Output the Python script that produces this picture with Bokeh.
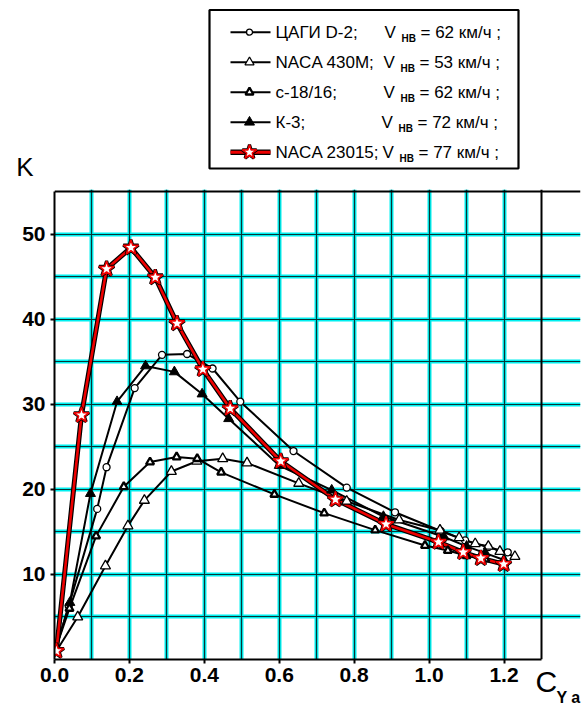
from bokeh.plotting import figure
from bokeh.layouts import column
from bokeh.models import Range1d, FixedTicker, NumeralTickFormatter, Grid, LinearAxis
from bokeh.core.properties import value
from bokeh.embed import file_html
from bokeh.resources import INLINE

# ---------------- data ----------------
d2_cy = [0.005, 0.038, 0.114, 0.139, 0.214, 0.287, 0.354, 0.422, 0.496, 0.638, 0.78, 0.909, 1.031, 1.096, 1.158, 1.21]
d2_k = [1.5, 6.3, 17.7, 22.6, 31.9, 35.8, 35.9, 34.2, 30.3, 24.5, 20.2, 17.3, 15.1, 14.0, 13.2, 12.6]

n430_cy = [0.005, 0.062, 0.136, 0.196, 0.24, 0.312, 0.38, 0.449, 0.514, 0.652, 0.78, 0.92, 1.029, 1.08, 1.123, 1.158, 1.189, 1.229]
n430_k = [1.0, 5.0, 11.0, 15.7, 18.7, 22.1, 23.3, 23.6, 23.1, 20.7, 18.6, 16.4, 15.2, 14.3, 13.6, 13.3, 12.7, 12.1]

c18_cy = [0.005, 0.04, 0.111, 0.185, 0.255, 0.326, 0.381, 0.445, 0.587, 0.72, 0.856, 0.989, 1.05, 1.1, 1.15, 1.2]
c18_k = [1.5, 6.0, 14.5, 20.3, 23.2, 23.8, 23.6, 22.0, 19.4, 17.2, 15.2, 13.4, 12.8, 12.2, 11.8, 11.3]

k3_cy = [0.005, 0.041, 0.096, 0.167, 0.243, 0.32, 0.394, 0.465, 0.6, 0.74, 0.878, 1.04, 1.1, 1.15, 1.2]
k3_k = [1.5, 6.7, 19.5, 30.3, 34.5, 33.8, 31.2, 28.3, 22.8, 19.9, 16.8, 14.4, 13.3, 12.5, 11.7]

n23_cy = [0.005, 0.072, 0.139, 0.204, 0.269, 0.327, 0.396, 0.469, 0.604, 0.75, 0.885, 1.025, 1.091, 1.138, 1.199]
n23_k = [1.0, 28.7, 45.9, 48.4, 44.9, 39.5, 34.1, 29.5, 23.3, 18.8, 15.9, 13.8, 12.6, 11.9, 11.2]

x_tick_labels_at = [0.0, 0.2, 0.4, 0.6, 0.8, 1.0, 1.2]
y_tick_labels_at = [10, 20, 30, 40, 50]
x_grid_at = [0.1, 0.2, 0.3, 0.4, 0.5, 0.6, 0.7, 0.8, 0.9, 1.0, 1.1, 1.2]
y_grid_at = [5, 10, 15, 20, 25, 30, 35, 40, 45, 50]
X_MAX = 1.3
Y_MAX = 55

legend_names = ["ЦАГИ D-2;", "NACA 430M;", "с-18/16;", "К-3;", "NACA 23015;"]
legend_speeds = [62, 53, 62, 72, 77]
y_title = "K"
x_title = "C"
x_title_sub = "Y a"

FONT = value("Liberation Sans")
W = 582

# ---------------- legend figure (page pixel coordinates) ----------------
lg = figure(width=W, height=189, x_range=Range1d(54, 580), y_range=Range1d(189, 0),
            output_backend="svg", toolbar_location=None,
            min_border_left=54, min_border_right=2, min_border_top=0, min_border_bottom=0,
            x_axis_type=None, y_axis_type=None)
lg.grid.visible = False
lg.outline_line_color = None

lg.quad(left=[209], right=[518], top=[9.5], bottom=[168], fill_color=None,
        line_color="black", line_width=2.2)

row_y = [31.7, 61.7, 91.7, 121.7, 151.7]
v_x = [384, 383, 383, 381, 382]

lg.segment(x0=[230] * 4, x1=[270] * 4, y0=row_y[:4], y1=row_y[:4], line_color="black", line_width=2)
lg.segment(x0=[230], x1=[270], y0=[row_y[4]], y1=[row_y[4]], line_color="black", line_width=5.5)
lg.segment(x0=[230], x1=[270], y0=[row_y[4]], y1=[row_y[4]], line_color="#ee0000", line_width=3)
lg.scatter(x=[249], y=[row_y[0]], marker="circle", size=6, fill_color="white", line_color="black", line_width=1.3)
lg.scatter(x=[249], y=[row_y[1]], marker="triangle", size=9, fill_color="white", line_color="black", line_width=1.3)
lg.scatter(x=[249], y=[row_y[2]], marker="triangle", size=8, fill_color="white", line_color="black", line_width=2.3)
lg.scatter(x=[249], y=[row_y[3]], marker="triangle", size=10, fill_color="black", line_color="black", line_width=1)
lg.scatter(x=[249], y=[row_y[4]], marker="star", size=15, fill_color=None, line_color="black", line_width=3.2)
lg.scatter(x=[249], y=[row_y[4]], marker="star", size=15, fill_color="white", line_color="#ee0000", line_width=1.6)

lg.text(x=[275] * 5, y=row_y, text=legend_names, text_font=FONT, text_font_size=value("17px"),
        text_baseline="middle", text_align="left", text_color="black")
lg.text(x=v_x, y=row_y, text=["V"] * 5, text_font=FONT, text_font_size=value("17px"),
        text_baseline="middle", text_align="left", text_color="black")
lg.text(x=[v + 17 for v in v_x], y=[r + 6.5 for r in row_y], text=["НВ"] * 5, text_font=FONT,
        text_font_size=value("10px"), text_font_style="bold",
        text_baseline="middle", text_align="left", text_color="black")
lg.text(x=[v + 36 for v in v_x], y=row_y, text=[f"= {s} км/ч ;" for s in legend_speeds], text_font=FONT,
        text_font_size=value("17px"), text_baseline="middle", text_align="left", text_color="black")

# "K" title through an axis of the legend figure
k_axis = LinearAxis(ticker=FixedTicker(ticks=[166.5]), major_label_overrides={166.5: y_title},
                    axis_line_color=None, major_tick_line_color=None, minor_tick_line_color=None,
                    major_tick_out=0, major_label_standoff=21,
                    major_label_text_font="Liberation Sans", major_label_text_font_size="26px",
                    major_label_text_color="black")
lg.add_layout(k_axis, "left")

# ---------------- main figure ----------------
p = figure(width=W, height=521, x_range=Range1d(0, 1.4041), y_range=Range1d(0, 55.235),
           output_backend="svg", toolbar_location=None,
           min_border_left=54, min_border_right=2, min_border_top=0, min_border_bottom=51)
p.outline_line_color = None
p.background_fill_color = "white"

p.xgrid.ticker = FixedTicker(ticks=x_grid_at)
p.ygrid.ticker = FixedTicker(ticks=y_grid_at)
p.xgrid.bounds = (0, Y_MAX)
p.ygrid.bounds = (0, X_MAX)
for g in (p.xgrid, p.ygrid):
    g.grid_line_color = "#00f0f0"
    g.grid_line_width = 4
p.add_layout(Grid(dimension=0, ticker=FixedTicker(ticks=x_grid_at), bounds=(0, Y_MAX),
                  grid_line_color="#0a3434", grid_line_width=1.2))
p.add_layout(Grid(dimension=1, ticker=FixedTicker(ticks=y_grid_at), bounds=(0, X_MAX),
                  grid_line_color="#0a3434", grid_line_width=1.2))
# plot border (top and right)
p.add_layout(Grid(dimension=0, ticker=FixedTicker(ticks=[X_MAX]), bounds=(0, Y_MAX),
                  grid_line_color="black", grid_line_width=2))
p.add_layout(Grid(dimension=1, ticker=FixedTicker(ticks=[Y_MAX]), bounds=(0, X_MAX),
                  grid_line_color="black", grid_line_width=2))

p.xaxis.ticker = FixedTicker(ticks=x_tick_labels_at)
p.xaxis.formatter = NumeralTickFormatter(format="0.0")
p.xaxis.bounds = (0, X_MAX)
p.yaxis.ticker = FixedTicker(ticks=y_tick_labels_at)
p.yaxis.bounds = (0, Y_MAX)
for ax in (p.xaxis, p.yaxis):
    ax.axis_line_width = 2
    ax.axis_line_color = "black"
    ax.major_tick_line_width = 2
    ax.major_tick_line_color = "black"
    ax.major_tick_out = 4
    ax.major_tick_in = 0
    ax.minor_tick_out = 0
    ax.minor_tick_in = 0
    ax.major_label_text_font = "Liberation Sans"
    ax.major_label_text_font_size = "21px"
    ax.major_label_text_font_style = "bold"
    ax.major_label_text_color = "black"
p.xaxis.major_label_standoff = 4
p.yaxis.major_label_standoff = 5

# x title "C" with subscript "Y a" through extra axes below
c_axis = LinearAxis(ticker=FixedTicker(ticks=[1.313]), major_label_overrides={1.313: x_title},
                    axis_line_color=None, major_tick_line_color=None, minor_tick_line_color=None,
                    major_tick_out=0, major_label_standoff=-20,
                    major_label_text_font="Liberation Sans", major_label_text_font_size="30px",
                    major_label_text_color="black")
p.add_layout(c_axis, "below")
ya_axis = LinearAxis(ticker=FixedTicker(ticks=[1.372]), major_label_overrides={1.372: x_title_sub},
                     axis_line_color=None, major_tick_line_color=None, minor_tick_line_color=None,
                     major_tick_out=0, major_label_standoff=-12,
                     major_label_text_font="Liberation Sans", major_label_text_font_size="16px",
                     major_label_text_font_style="bold", major_label_text_color="black")
p.add_layout(ya_axis, "below")

# series
p.line(d2_cy, d2_k, line_color="black", line_width=2)
p.line(n430_cy, n430_k, line_color="black", line_width=2)
p.line(c18_cy, c18_k, line_color="black", line_width=2)
p.line(k3_cy, k3_k, line_color="black", line_width=2)
p.line(n23_cy, n23_k, line_color="black", line_width=5)
p.line(n23_cy, n23_k, line_color="#ee0000", line_width=2.6)

p.scatter(d2_cy[1:], d2_k[1:], marker="circle", size=7, fill_color="white", line_color="black", line_width=1.3)
p.scatter(n430_cy[1:], n430_k[1:], marker="triangle", size=10, fill_color="white", line_color="black", line_width=1.3)
p.scatter(c18_cy[1:], c18_k[1:], marker="triangle", size=8, fill_color="white", line_color="black", line_width=2.3)
p.scatter(k3_cy[1:], k3_k[1:], marker="triangle", size=10, fill_color="black", line_color="black", line_width=1)
p.scatter(n23_cy, n23_k, marker="star", size=16, fill_color=None, line_color="black", line_width=3.2)
p.scatter(n23_cy, n23_k, marker="star", size=16, fill_color="white", line_color="#ee0000", line_width=1.6)

layout = column(lg, p, spacing=0)
open("out.html", "w").write(file_html(layout, INLINE))
